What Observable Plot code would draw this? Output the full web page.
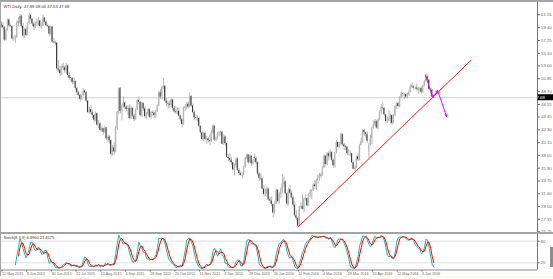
<!DOCTYPE html>
<html><head><meta charset="utf-8">
<script src="https://cdn.jsdelivr.net/npm/d3@7"></script>
<script src="https://cdn.jsdelivr.net/npm/@observablehq/plot@0.6"></script>
<style>
html,body{margin:0;padding:0;background:#fff;}
#wrap{position:relative;width:553px;height:279px;overflow:hidden;background:#fff;font-family:"Liberation Sans","DejaVu Sans",sans-serif;}
#wrap svg{position:absolute;left:0;overflow:visible;}
.deco{position:absolute;}
</style></head><body><div id="wrap"></div>
<script>
// ---------- DATA (daily bars, index 0 = 15 May 2015) ----------
const open = [
59.9,59.7,59.4,57.3,59.0,60.7,59.7,59.6,57.5,57.5,
57.7,60.3,60.2,61.3,59.6,58.0,59.1,58.1,60.1,61.4,
60.8,60.0,59.5,60.0,60.4,60.5,59.6,59.7,61.0,60.3,
59.7,59.6,58.3,59.5,57.0,56.9,56.8,52.5,52.3,51.7,
52.8,52.7,52.2,53.0,51.4,51.0,50.9,50.2,50.4,49.2,
48.5,48.1,47.4,48.0,48.8,48.5,47.1,45.2,45.7,45.2,
44.7,43.9,45.0,43.1,43.3,42.2,42.5,41.9,42.6,40.8,
41.1,40.5,38.2,39.3,38.6,42.6,45.2,49.2,45.4,46.3,
46.8,46.1,45.7,45.9,44.2,45.9,44.6,44.0,45.6,47.2,
46.9,44.7,46.7,45.8,44.5,44.9,45.7,44.4,45.2,45.1,
44.7,45.5,46.3,48.5,47.8,49.4,49.6,47.1,46.7,46.6,
46.4,47.3,45.9,45.3,45.2,45.4,44.6,44.0,43.2,45.9,
46.1,46.6,46.1,47.9,46.3,45.2,44.3,44.2,44.2,42.9,
41.8,40.7,41.7,40.7,40.8,40.5,40.4,41.8,42.9,40.6,
40.8,41.7,41.7,41.9,39.9,41.1,40.0,37.7,37.5,37.2,
36.8,35.6,36.3,37.4,35.5,35.0,34.7,34.7,36.1,37.5,
38.1,36.8,37.9,36.6,37.7,37.5,36.8,34.9,34.2,34.1,
32.4,31.5,31.6,32.4,30.6,30.4,29.8,28.4,29.9,32.2,
30.3,31.5,32.3,33.2,33.6,31.6,29.9,32.3,31.7,30.9,
29.7,27.9,27.5,26.2,29.4,29.5,29.0,30.7,30.8,29.6,
31.5,31.9,32.2,33.1,32.8,33.8,34.4,34.7,34.6,35.9,
37.9,36.5,38.3,37.8,38.5,37.2,36.3,38.5,40.2,39.4,
39.9,41.5,39.8,39.5,39.4,38.3,38.3,38.3,36.8,35.7,
35.9,37.8,37.3,39.7,40.4,42.2,41.8,41.5,38.8,39.8,
40.9,42.6,43.2,43.7,42.6,44.0,45.3,46.0,45.9,44.8,
43.7,43.8,44.3,44.7,43.4,44.7,46.2,46.7,46.2,47.7,
48.3,48.2,48.2,47.8,48.1,48.6,49.6,49.5,49.3,49.3,
49.1,49.0,49.2,48.6,49.7,50.4,51.2,50.6,49.1,48.9,47.89];
const high = [
60.4,60.2,59.6,59.2,60.9,60.8,60.0,59.7,58.0,58.1,
60.5,61.1,61.6,61.5,60.1,59.3,59.5,60.3,61.7,61.6,
60.9,60.3,60.3,60.8,61.1,60.7,60.3,61.5,61.1,60.6,
60.0,59.7,59.7,59.6,57.6,57.1,56.9,53.9,52.9,53.2,
53.5,53.0,53.4,53.2,51.9,51.3,51.0,51.0,50.5,49.4,
48.8,48.2,48.2,49.2,49.0,48.7,47.2,46.1,46.4,45.6,
44.9,45.3,45.1,43.9,43.5,42.8,42.6,42.9,42.7,41.4,
41.3,40.6,39.7,40.1,42.9,45.4,49.4,49.4,46.5,47.8,
47.0,46.3,46.4,46.5,46.2,46.0,44.9,45.8,47.4,47.8,
47.0,46.9,46.8,46.2,45.2,45.9,45.8,45.4,45.5,45.3,
45.6,46.5,48.7,49.0,49.6,50.9,49.7,47.5,47.0,47.2,
47.5,47.4,46.2,46.2,46.0,46.0,44.8,44.2,46.1,46.5,
46.9,47.0,48.4,48.0,46.6,45.5,44.8,44.6,44.4,43.0,
42.1,41.9,42.0,41.2,41.1,41.4,42.2,43.2,43.0,41.1,
41.9,42.0,42.1,42.0,41.5,41.3,40.1,38.2,38.3,37.7,
36.9,36.6,37.6,37.7,35.8,35.3,35.1,36.3,37.7,38.3,
38.2,38.1,38.0,37.3,38.3,37.8,37.0,35.2,35.0,34.3,
33.0,32.4,32.7,32.5,31.0,31.1,29.9,30.3,32.4,32.3,
31.8,32.6,34.8,34.4,33.8,31.8,32.6,33.0,32.1,31.2,
30.3,28.8,27.7,29.5,30.1,31.5,30.9,31.5,30.9,31.6,
32.3,32.3,33.3,33.8,34.0,34.8,35.0,35.1,36.2,38.1,
38.0,38.5,38.7,38.9,38.7,37.4,38.6,40.5,40.3,40.2,
41.8,41.6,40.0,39.7,39.5,39.0,38.8,38.4,37.1,36.3,
37.9,38.3,39.9,40.9,42.4,42.4,42.0,41.9,40.0,41.4,
42.8,43.8,44.0,43.9,44.2,45.5,46.5,46.8,46.0,44.9,
44.4,45.5,44.9,44.8,44.9,46.4,46.9,46.9,47.9,48.7,
48.6,48.4,48.3,48.4,48.9,49.8,50.2,49.7,49.5,50.0,
49.4,49.4,49.5,49.8,50.5,51.6,51.5,50.7,49.3,49.0,48.00];
const low = [
59.3,59.0,57.1,57.2,58.8,59.4,59.3,57.3,57.1,56.8,
57.6,59.5,59.9,59.3,57.7,57.6,57.9,58.0,59.9,60.4,
59.6,58.9,59.2,59.5,59.7,59.3,59.1,59.6,60.0,59.5,
59.3,57.9,58.1,56.8,56.6,56.4,52.0,51.9,51.2,51.4,
52.2,51.8,51.6,51.1,50.6,50.3,49.9,49.8,48.9,48.0,
47.9,46.9,47.2,47.8,48.1,46.9,45.0,44.9,44.9,44.2,
43.5,43.7,42.9,42.5,42.0,41.9,41.4,41.7,40.5,40.2,
39.9,37.8,37.9,38.0,38.4,42.2,44.8,45.0,43.8,45.9,
45.7,45.4,44.7,44.0,44.0,44.4,43.7,43.9,45.5,46.5,
44.5,44.4,45.4,44.2,44.0,44.6,44.2,44.1,44.6,44.3,
44.2,45.2,46.2,47.4,47.3,49.0,46.9,46.2,45.8,45.9,
46.1,45.5,45.0,44.9,44.8,44.4,43.6,42.6,43.0,45.4,
45.7,45.8,46.0,46.1,45.0,43.9,43.8,43.6,42.7,41.6,
40.4,40.3,40.5,39.9,40.1,39.7,40.2,41.6,40.4,40.3,
40.6,41.1,41.3,39.8,39.7,39.6,37.5,37.0,36.8,36.4,
35.4,34.6,35.9,35.3,34.7,34.5,34.1,34.6,35.9,37.3,
36.6,36.7,36.2,36.4,36.9,36.5,34.6,33.6,33.8,32.3,
31.2,31.1,31.0,30.4,30.0,29.5,27.6,28.2,29.8,30.1,
29.9,30.8,31.6,32.6,31.4,29.6,29.6,31.4,30.7,29.4,
27.7,27.1,26.1,26.2,29.1,28.9,28.4,30.4,29.4,29.5,
30.9,30.6,32.0,32.4,32.2,33.2,33.7,34.1,34.5,35.8,
36.1,36.3,37.1,37.6,36.9,35.9,35.9,38.3,39.2,39.2,
39.6,39.6,38.9,38.9,38.0,37.9,37.9,36.7,35.6,35.3,
35.8,37.0,37.1,39.6,40.0,41.2,40.9,40.1,37.6,39.6,
39.8,42.4,42.9,42.4,42.3,43.8,44.8,45.6,44.6,43.3,
43.4,43.6,43.3,43.0,43.3,44.5,45.7,46.0,46.0,47.5,
47.7,47.4,47.6,47.5,47.9,48.5,49.2,48.9,49.0,48.8,
48.3,48.5,48.3,48.4,49.5,50.2,50.3,48.9,48.2,47.8,47.53];
const close = [
59.7,59.4,57.3,59.0,60.7,59.7,59.6,57.5,57.5,57.7,
60.3,60.2,61.3,59.6,58.0,59.1,58.1,60.1,61.4,60.8,
60.0,59.5,60.0,60.4,60.5,59.6,59.7,61.0,60.3,59.7,
59.6,58.3,59.5,57.0,56.9,56.8,52.5,52.3,51.7,52.8,
52.7,52.2,53.0,51.4,50.9,50.9,50.2,50.4,49.2,48.5,
48.1,47.4,48.0,48.8,48.5,47.1,45.2,45.7,45.2,44.7,
43.9,45.0,43.1,43.3,42.2,42.5,41.9,42.6,40.8,41.1,
40.5,38.2,39.3,38.6,42.6,45.2,49.2,45.4,46.3,46.8,
46.1,45.7,45.9,44.2,45.9,44.6,44.0,45.6,47.2,46.9,
44.7,46.7,45.8,44.5,44.9,45.7,44.4,45.2,45.1,44.7,
45.5,46.3,48.5,47.8,49.4,49.6,47.1,46.7,46.6,46.4,
47.3,45.9,45.3,45.2,45.4,44.6,44.0,43.2,45.9,46.1,
46.6,46.1,47.9,46.3,45.2,44.3,44.2,44.2,42.9,41.8,
40.7,41.7,40.7,40.8,40.5,40.4,41.8,42.9,40.6,40.8,
41.7,41.7,41.9,39.9,41.1,40.0,37.7,37.5,37.2,36.8,
35.6,36.3,37.4,35.5,35.0,34.7,34.7,36.1,37.5,38.1,
36.8,37.9,36.6,37.0,37.5,36.8,34.9,34.2,34.1,32.4,
31.5,31.6,32.4,30.6,30.4,29.8,28.4,29.9,32.2,30.3,
31.5,32.3,33.2,33.6,31.6,29.9,32.3,31.7,30.9,29.7,
27.9,27.5,26.2,29.4,29.5,29.0,30.7,30.8,29.6,31.5,
31.9,32.2,33.1,32.8,33.8,34.4,34.7,34.6,35.9,37.9,
36.5,38.3,37.8,38.5,37.2,36.3,38.5,40.2,39.4,39.9,
41.5,39.8,39.5,39.4,38.3,38.3,38.3,36.8,35.7,35.9,
37.8,37.3,39.7,40.4,42.2,41.8,41.5,40.4,39.8,40.9,
42.6,43.2,43.7,42.6,44.0,45.3,46.0,45.9,44.8,43.7,
43.8,44.3,44.7,43.4,44.7,46.2,46.7,46.2,47.7,48.3,
48.2,48.2,47.8,48.1,48.6,49.6,49.5,49.3,49.3,49.1,
49.0,49.2,48.6,49.7,50.4,51.2,50.6,49.1,48.9,47.9,47.68];

const priceTicks = [61.55,59.40,57.25,55.10,53.00,50.85,48.70,46.55,44.45,42.30,40.15,38.05,35.90,33.75,31.60,29.50,27.35,25.25];
const dateTickIndex = [0,16,32,48,64,80,96,112,128,144,160,176,192,208,224,240,256,272];
const dateTickLabels = ["15 May 2015","8 Jun 2015","30 Jun 2015","22 Jul 2015","13 Aug 2015","4 Sep 2015","28 Sep 2015","20 Oct 2015","11 Nov 2015","3 Dec 2015","28 Dec 2015","20 Jan 2016","11 Feb 2016","4 Mar 2016","29 Mar 2016","20 Apr 2016","12 May 2016","3 Jun 2016"];
const trendIndex = [192.3, 304];
const trendPrice = [26.1, 53.9];
const arrowIndex = [274.5, 279.5, 282.5, 288.3];
const arrowPrice = [51.5, 47.7, 48.9, 44.5];
const lastPrice = 47.68;
const headerText = "WTI,Daily  47.89 48.00 47.53 47.68";
const stochParams = [8, 3, 3];
const stochLabel = "Stoch(8,3,3) 6.3960 21.4575";
const stochLevels = [80, 20];

// ---------- BUILD ----------
const xDomain = [0, 347.2];
const xRange = [1, 537];
const font = "Liberation Sans, DejaVu Sans, sans-serif";
const bars = close.map((c, i) => ({i, o: open[i], h: high[i], l: low[i], c, up: c >= open[i]}));

// stochastic (MT4 style) computed from the bars
function stochastic([kP, dP, slow]) {
  const n = close.length, K = new Array(n).fill(null), D = new Array(n).fill(null);
  for (let i = kP + slow - 2; i < n; i++) {
    let num = 0, den = 0;
    for (let j = i - slow + 1; j <= i; j++) {
      const hh = d3.max(high.slice(j - kP + 1, j + 1)), ll = d3.min(low.slice(j - kP + 1, j + 1));
      num += close[j] - ll; den += hh - ll;
    }
    K[i] = den === 0 ? 100 : num / den * 100;
  }
  for (let i = 0; i < n; i++) {
    const w = K.slice(Math.max(0, i - dP + 1), i + 1);
    if (w.length === dP && w.every(v => v != null)) D[i] = d3.mean(w);
  }
  return K.map((k, i) => ({i, k, d: D[i]}));
}
const st = stochastic(stochParams);

const trend = trendIndex.map((x, j) => ({x, y: trendPrice[j]}));
const arrows = arrowIndex.slice(0, -1).map((x, j) => ({x1: x, y1: arrowPrice[j], x2: arrowIndex[j + 1], y2: arrowPrice[j + 1]}));

const main = Plot.plot({
  width: 553, height: 233, marginLeft: 1, marginRight: 16, marginTop: 2, marginBottom: 1,
  style: {background: "transparent", fontFamily: font, overflow: "visible"},
  x: {domain: xDomain, range: xRange, axis: null},
  y: {domain: [25.25, 61.55], range: [231.3, 14.3], axis: null},
  marks: [
    Plot.ruleY([lastPrice], {x1: xDomain[0] - 1, x2: xDomain[1], stroke: "#c8c8c8", strokeWidth: 0.8}),
    Plot.ruleX(bars, {x: "i", y1: "l", y2: "h", stroke: "#9c9c9c", strokeWidth: 0.75}),
    Plot.rect(bars, {x1: d => d.i - 0.3, x2: d => d.i + 0.3, y1: "o", y2: "c", fill: d => d.up ? "#b4b4b4" : "#2a2a2a"}),
    Plot.line(trend, {x: "x", y: "y", stroke: "#ff1a1a", strokeWidth: 1}),
    Plot.arrow(arrows, {x1: "x1", y1: "y1", x2: "x2", y2: "y2", stroke: "#ff00ff", strokeWidth: 1, headLength: 3.5, headAngle: 50}),
    Plot.ruleX([xDomain[1]], {stroke: "#777", strokeWidth: 1}),
    Plot.axisY(priceTicks, {anchor: "right", tickSize: 2, tickPadding: 1.5, tickFormat: d => d.toFixed(2), fontSize: 4.3, color: "#666", label: null}),
    Plot.text([headerText], {frameAnchor: "top-left", dx: 2, dy: 3, lineAnchor: "top", textAnchor: "start", fontSize: 4.2, fill: "#333"})
  ]
});
main.style.top = "0px";

// current price box
const yp = main.scale("y").apply(lastPrice);
const sel = d3.select(main);
sel.append("rect").attr("x", 537.5).attr("y", yp - 3).attr("width", 16).attr("height", 6).attr("fill", "#000");
sel.append("text").attr("x", 539.5).attr("y", yp).attr("dy", "0.35em").attr("font-size", 4.3).attr("font-family", font).attr("fill", "#fff").text(lastPrice.toFixed(2));

const labelOf = new Map(dateTickIndex.map((d, j) => [d, dateTickLabels[j]]));
const stPlot = Plot.plot({
  width: 553, height: 46, marginLeft: 1, marginRight: 16, marginTop: 1, marginBottom: 9,
  style: {background: "transparent", fontFamily: font, overflow: "visible"},
  x: {domain: xDomain, range: xRange, axis: null},
  y: {domain: [0, 100], range: [36.5, 0.5], axis: null},
  marks: [
    Plot.ruleY(stochLevels, {x1: xDomain[0] - 1, x2: xDomain[1], stroke: "#9a9a9a", strokeWidth: 0.6, strokeDasharray: "1,1"}),
    Plot.line(st.filter(d => d.k != null), {x: "i", y: "k", stroke: "#20b2aa", strokeWidth: 1}),
    Plot.line(st.filter(d => d.d != null), {x: "i", y: "d", stroke: "#ff0000", strokeWidth: 1}),
    Plot.ruleY([0], {x1: xDomain[0] - 1, x2: xDomain[1], stroke: "#8a8a8a", strokeWidth: 1}),
    Plot.ruleX([xDomain[1]], {y1: 0, y2: 100, stroke: "#777", strokeWidth: 1}),
    Plot.axisY(stochLevels, {anchor: "right", tickSize: 1.5, tickPadding: 1.5, fontSize: 4.3, color: "#666", label: null}),
    Plot.axisX(dateTickIndex, {anchor: "bottom", tickSize: 1.5, tickPadding: 0.8, textAnchor: "start", dx: 0.5, tickFormat: d => labelOf.get(d), fontSize: 3.7, color: "#666", label: null}),
    Plot.text([stochLabel], {frameAnchor: "top-left", dx: 2, dy: 2, lineAnchor: "top", textAnchor: "start", fontSize: 4, fill: "#333"})
  ]
});
stPlot.style.top = "233px";

const wrap = document.getElementById("wrap");
function deco(css) { const d = document.createElement("div"); d.className = "deco"; d.style.cssText = css; wrap.appendChild(d); }
wrap.appendChild(main);
wrap.appendChild(stPlot);
deco("left:0;top:0;width:553px;height:2px;background:#a3a3a3;");
deco("left:0;top:0;width:1px;height:279px;background:#a3a3a3;");
deco("left:0;top:232px;width:553px;height:2px;background:#a3a3a3;");
deco("left:0;top:276px;width:553px;height:3px;background:#fbfaf0;");
deco("left:550px;top:247px;width:3px;height:20px;background:#8c8c8c;");
</script></body></html>
